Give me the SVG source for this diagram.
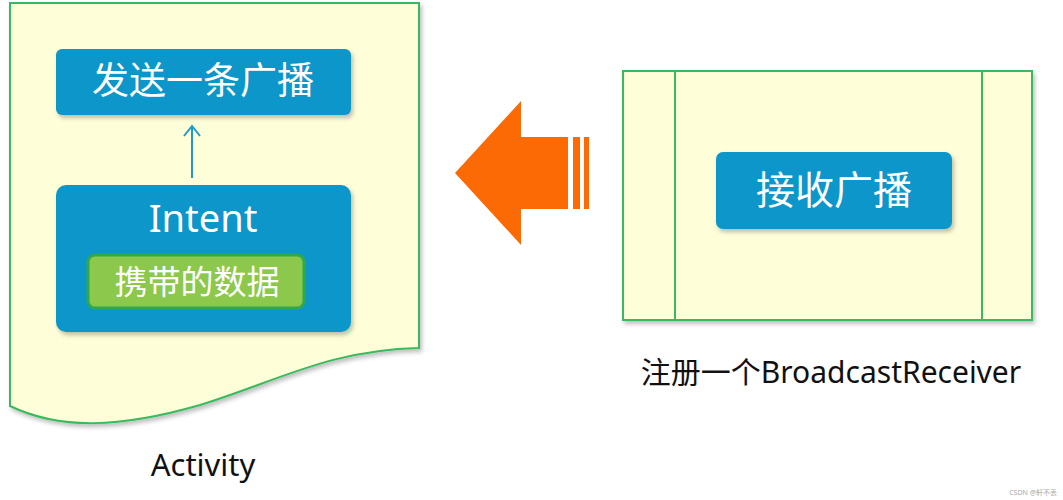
<svg xmlns="http://www.w3.org/2000/svg" width="1063" height="500" viewBox="0 0 1063 500">
<defs>
<style>
.doc{fill:#fefed9;stroke:#3bb95e;stroke-width:2}
.blue{fill:#0b96ca}
.green{fill:#8cc84b;stroke:#2fa94c;stroke-width:3}
.wt{fill:#ffffff;font-family:"Noto Sans","Noto Sans CJK SC",sans-serif;text-anchor:middle}
.lbl{fill:#111111;font-family:"Noto Sans","Noto Sans CJK SC",sans-serif;text-anchor:middle}
.orange{fill:#fc6a05}
.conn{stroke:#1a9ad0;stroke-width:2;fill:none}
</style>
<filter id="sh" x="-10%" y="-10%" width="130%" height="130%">
<feDropShadow dx="2" dy="3" stdDeviation="2" flood-color="#000000" flood-opacity="0.25"/>
</filter>
</defs>
<rect width="1063" height="500" fill="#ffffff"/>

<g id="activity">
<path class="doc" filter="url(#sh)" d="M10,3 L419,3 L419,348 C330,350 280,380 200,405 C120,428 60,430 10,406 Z"/>
<text class="lbl" x="203" y="476" font-size="31" font-family="Liberation Sans, sans-serif">Activity</text>
</g>

<g id="send">
<rect class="blue" filter="url(#sh)" x="56" y="49" width="295" height="66" rx="6"/>
<text class="wt" x="203" y="94" font-size="37">发送一条广播</text>
</g>

<g id="intent">
<rect class="blue" filter="url(#sh)" x="56" y="185" width="295" height="147" rx="10"/>
<text class="wt" x="203" y="232" font-size="38">Intent</text>
</g>

<g id="data">
<rect class="green" x="88" y="255" width="216" height="53" rx="7"/>
<text class="wt" x="197" y="294" font-size="33">携带的数据</text>
</g>

<g id="bigarrow">
<polygon class="orange" points="455,173 521,101 521,137 568,137 568,209 521,209 521,245"/>
<rect class="orange" x="573" y="137" width="7" height="72"/>
<rect class="orange" x="584" y="137" width="5" height="72"/>
</g>

<g id="receiver">
<rect class="doc" filter="url(#sh)" x="623" y="71" width="409" height="249"/>
<line x1="675" y1="71" x2="675" y2="320" stroke="#3bb95e" stroke-width="2"/>
<line x1="982" y1="71" x2="982" y2="320" stroke="#3bb95e" stroke-width="2"/>
<text class="lbl" x="831" y="383" font-size="30">注册一个BroadcastReceiver</text>
</g>

<g id="receive">
<rect class="blue" filter="url(#sh)" x="716" y="152" width="236" height="77" rx="7"/>
<text class="wt" x="834" y="204" font-size="39">接收广播</text>
</g>

<g id="connectors">
<line class="conn" x1="192" y1="178" x2="192" y2="126"/>
<polyline class="conn" points="184,136 192,126 200,136"/>
</g>

<text x="1057" y="495" font-size="7" fill="#aaaaaa" text-anchor="end" font-family="Noto Sans, Noto Sans CJK SC, sans-serif">CSDN @轩不丢</text>
</svg>
